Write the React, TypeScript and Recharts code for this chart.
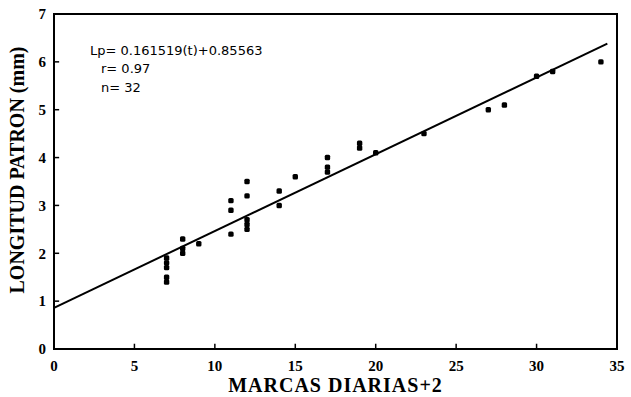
import React from 'react';
import { ScatterChart, Scatter, XAxis, YAxis, ReferenceLine, ReferenceArea, Label } from 'recharts';

const marcas = [7, 7, 7, 7, 7, 8, 8, 8, 9, 11, 11, 11, 12, 12, 12, 12, 12, 14, 14, 15, 17, 17, 17, 19, 19, 20, 23, 27, 28, 30, 31, 34];
const longitud = [1.9, 1.8, 1.7, 1.5, 1.4, 2.3, 2.1, 2.0, 2.2, 3.1, 2.9, 2.4, 3.5, 3.2, 2.7, 2.6, 2.5, 3.3, 3.0, 3.6, 4.0, 3.8, 3.7, 4.3, 4.2, 4.1, 4.5, 5.0, 5.1, 5.7, 5.8, 6.0];
const xTicks = [0, 5, 10, 15, 20, 25, 30, 35];
const yTicks = [0, 1, 2, 3, 4, 5, 6, 7];
const fitX = [0, 34.4];
const fitY = [0.86, 6.38];
const annotationLines = ['Lp= 0.161519(t)+0.85563', 'r= 0.97', 'n= 32'];
const xTitle = 'MARCAS DIARIAS+2';
const yTitle = 'LONGITUD PATRON (mm)';

const points = marcas.map((x, i) => ({ x, y: longitud[i] }));

const serif = '"Liberation Serif", "DejaVu Serif", serif';
const tickFont = { fill: '#000', fontFamily: serif, fontWeight: 'bold', fontSize: 15 };

const Dot = (props: any) => (
  <rect x={props.cx - 2.7} y={props.cy - 2.7} width={5.4} height={5.4} rx={1.5} fill="#000" />
);

const YTitle = () => (
  <text
    x={17}
    y={170}
    transform="rotate(-90 17 170)"
    textAnchor="middle"
    dy="0.36em"
    style={{ fontFamily: serif, fontWeight: 'bold', fontSize: 20, fill: '#000' }}
  >
    {yTitle}
  </text>
);

export default function App() {
  return (
    <div style={{ position: 'absolute', left: 0, top: 0, width: 631, height: 397, background: '#fff' }}>
      <ScatterChart width={631} height={397} margin={{ top: 14, right: 14, left: 0, bottom: 0 }}>
        <XAxis
          type="number"
          dataKey="x"
          domain={[0, 35]}
          ticks={xTicks}
          height={48}
          tickSize={2}
          tickMargin={9}
          tick={tickFont}
          axisLine={{ stroke: '#000', strokeWidth: 2 }}
          tickLine={false}
          interval={0}
        >
          <Label
            value={xTitle}
            position="insideBottom"
            offset={5}
            style={{ fontFamily: serif, fontWeight: 'bold', fontSize: 20, fill: '#000', letterSpacing: 1 }}
          />
        </XAxis>
        <YAxis
          type="number"
          dataKey="y"
          domain={[0, 7]}
          ticks={yTicks}
          width={54}
          tickSize={2}
          tickMargin={6}
          tick={tickFont}
          axisLine={{ stroke: '#000', strokeWidth: 2 }}
          tickLine={false}
          interval={0}
        >
          <Label content={<YTitle />} />
        </YAxis>
        <ReferenceArea x1={0} x2={35} y1={0} y2={7} fill="none" stroke="#000" strokeWidth={2} />
        {xTicks.slice(1, -1).map((v) => (
          <ReferenceLine key={'xt' + v} segment={[{ x: v, y: 0 }, { x: v, y: 0.11 }]} stroke="#000" strokeWidth={1.5} />
        ))}
        {yTicks.slice(1, -1).map((v) => (
          <ReferenceLine key={'yt' + v} segment={[{ x: 0, y: v }, { x: 0.32, y: v }]} stroke="#000" strokeWidth={1.5} />
        ))}
        <ReferenceLine
          segment={[{ x: fitX[0], y: fitY[0] }, { x: fitX[1], y: fitY[1] }]}
          stroke="#000"
          strokeWidth={2}
        />
        <Scatter data={points} shape={<Dot />} isAnimationActive={false} />
      </ScatterChart>
      <svg width={631} height={397} style={{ position: 'absolute', left: 0, top: 0, pointerEvents: 'none' }}>
        {annotationLines.map((t, i) => (
          <text
            key={i}
            x={i === 0 ? 90 : 101}
            y={50 + i * 18.5}
            dy="0.36em"
            style={{ fontFamily: '"DejaVu Sans", sans-serif', fontSize: 13, fill: '#000' }}
          >
            {t}
          </text>
        ))}
      </svg>
    </div>
  );
}
